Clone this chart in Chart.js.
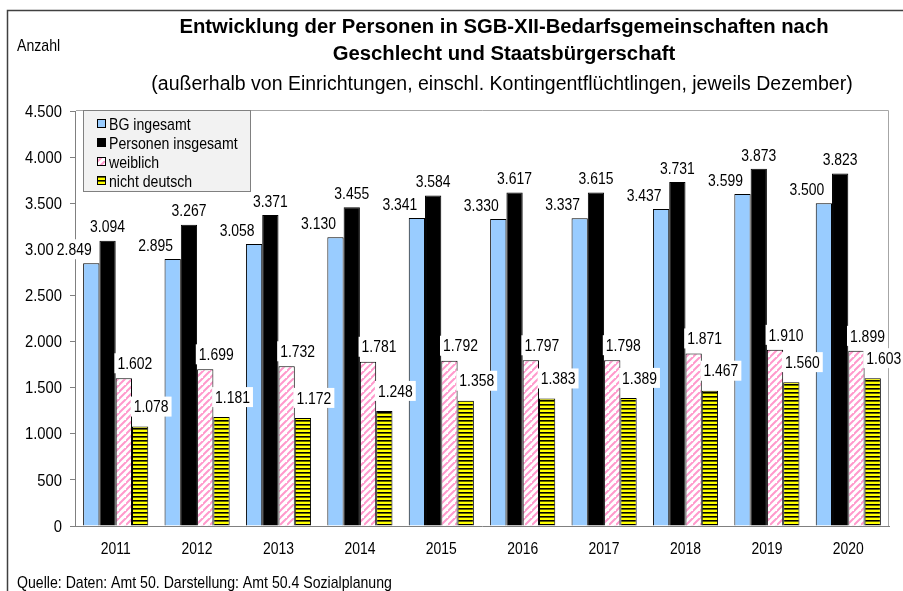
<!DOCTYPE html>
<html lang="de">
<head>
<meta charset="UTF-8">
<title>SGB-XII-Bedarfsgemeinschaften</title>
<script src="https://cdn.jsdelivr.net/npm/chart.js"></script>
<style>
  html, body { margin: 0; padding: 0; background: #fff; }
  canvas { display: block; }
</style>
</head>
<body>
<canvas id="chartCanvas" width="903" height="591"></canvas>
<script>
const years = ["2011", "2012", "2013", "2014", "2015", "2016", "2017", "2018", "2019", "2020"]
const bgInsgesamt = [2849, 2895, 3058, 3130, 3341, 3330, 3337, 3437, 3599, 3500]
const personenInsgesamt = [3094, 3267, 3371, 3455, 3584, 3617, 3615, 3731, 3873, 3823]
const weiblich = [1602, 1699, 1732, 1781, 1792, 1797, 1798, 1871, 1910, 1899]
const nichtDeutsch = [1078, 1181, 1172, 1248, 1358, 1383, 1389, 1467, 1560, 1603]
const yTicks = [0, 500, 1000, 1500, 2000, 2500, 3000, 3500, 4000, 4500]

const FONT = 'Arial, "Liberation Sans", sans-serif'
const SX = 0.82   // narrow look (Arial Narrow not installed)

function fmt(n){
  // german thousands separator
  return String(n).replace(/\B(?=(\d{3})+(?!\d))/g, ".")
}

function narrowText(ctx, txt, x, y, align, sx){
  sx = sx || SX
  const w = ctx.measureText(txt).width * sx
  let left = x
  if (align === "center") left = x - w / 2
  if (align === "right") left = x - w
  ctx.save()
  ctx.translate(left, y)
  ctx.scale(sx, 1)
  ctx.textAlign = "left"
  ctx.fillText(txt, 0, 0)
  ctx.restore()
  return w
}

function makePattern(w, h, drawFn){
  const c = document.createElement("canvas")
  c.width = w
  c.height = h
  const g = c.getContext("2d")
  drawFn(g, w, h)
  return document.getElementById("chartCanvas").getContext("2d").createPattern(c, "repeat")
}

const pinkPattern = makePattern(7, 7, (g, w, h) => {
  g.fillStyle = "#fff"
  g.fillRect(0, 0, w, h)
  g.strokeStyle = "#ff99cc"
  g.lineWidth = 2
  g.beginPath()
  g.moveTo(-1, h + 1); g.lineTo(w + 1, -1)
  g.moveTo(-w - 1, h + 1); g.lineTo(1, -1)
  g.moveTo(w - 1, 2 * h + 1); g.lineTo(2 * w + 1, h - 1)
  g.stroke()
})

const yellowPattern = makePattern(4, 4, (g, w, h) => {
  g.fillStyle = "#ffff00"
  g.fillRect(0, 0, w, h)
  g.fillStyle = "#000"
  g.fillRect(0, 0, w, 1.6)
})

// label offsets per series (relative to bar centre / bar top)
const labelShift = [
  {dx: -17, dy: -14},
  {dx: 0, dy: -14},
  {dx: 11, dy: -15},
  {dx: 11, dy: -20}
]

const extras = {
  id: "extras",
  beforeDraw(chart){
    const ctx = chart.ctx
    ctx.save()
    ctx.fillStyle = "#fff"
    ctx.fillRect(0, 0, chart.width, chart.height)
    ctx.restore()
  },
  afterDatasetsDraw(chart){
    const ctx = chart.ctx
    const a = chart.chartArea
    ctx.save()
    ctx.textBaseline = "middle"
    ctx.fillStyle = "#000"

    // plot frame
    ctx.strokeStyle = "#a6a6a6"
    ctx.lineWidth = 1
    ctx.beginPath()
    ctx.moveTo(a.left + 1, a.top - 0.5)
    ctx.lineTo(a.right - 0.5, a.top - 0.5)
    ctx.lineTo(a.right - 0.5, a.bottom)
    ctx.stroke()

    // axis labels
    ctx.font = "17px " + FONT
    const ys = chart.scales.y
    yTicks.forEach(v => narrowText(ctx, fmt(v), 62, ys.getPixelForValue(v) + 1, "right", 0.87))
    const xs = chart.scales.x
    years.forEach((y, i) => narrowText(ctx, y, xs.getPixelForValue(i), 549, "center"))

    // value labels
    chart.data.datasets.forEach((ds, i) => {
      const meta = chart.getDatasetMeta(i)
      meta.data.forEach((bar, j) => {
        const txt = fmt(ds.data[j])
        const x = bar.x + labelShift[i].dx
        const y = bar.y + labelShift[i].dy
        const w = ctx.measureText(txt).width * SX + 6
        ctx.fillStyle = "#fff"
        ctx.fillRect(x - w / 2, y - 10, w, 20)
        ctx.fillStyle = "#000"
        narrowText(ctx, txt, x, y + 1, "center")
      })
    })

    // legend
    const lx = 83, ly = 110, lw = 167, lh = 81
    ctx.fillStyle = "#f2f2f2"
    ctx.fillRect(lx, ly, lw, lh)
    ctx.strokeStyle = "#808080"
    ctx.strokeRect(lx + 0.5, ly + 0.5, lw, lh)
    chart.data.datasets.forEach((ds, i) => {
      const cy = 124 + i * 19
      ctx.fillStyle = ds.backgroundColor
      ctx.fillRect(97, cy - 5, 9, 9)
      ctx.strokeStyle = "#000"
      ctx.strokeRect(97.5, cy - 4.5, 8, 8)
      ctx.fillStyle = "#000"
      narrowText(ctx, ds.label, 109, cy + 1, "left", 0.83)
    })

    // titles
    ctx.textAlign = "center"
    ctx.fillStyle = "#000"
    ctx.font = "bold 20.3px " + FONT
    ctx.fillText("Entwicklung der Personen in SGB-XII-Bedarfsgemeinschaften nach", 504, 27)
    ctx.fillText("Geschlecht und Staatsbürgerschaft", 504, 54)
    ctx.font = "19.5px " + FONT
    ctx.fillText("(außerhalb von Einrichtungen, einschl. Kontingentflüchtlingen, jeweils Dezember)", 502, 85)

    ctx.font = "17px " + FONT
    narrowText(ctx, "Anzahl", 17, 46, "left", 0.83)
    narrowText(ctx, "Quelle: Daten: Amt 50. Darstellung: Amt 50.4 Sozialplanung", 17, 583, "left", 0.83)

    // outer frame
    ctx.strokeStyle = "#404040"
    ctx.lineWidth = 1.5
    ctx.beginPath()
    ctx.moveTo(7.5, chart.height)
    ctx.lineTo(7.5, 10.5)
    ctx.lineTo(chart.width, 10.5)
    ctx.stroke()
    ctx.restore()
  }
}

const ctx = document.getElementById("chartCanvas").getContext("2d")
new Chart(ctx, {
  type: "bar",
  data: {
    labels: years,
    datasets: [
      {label: "BG ingesamt", data: bgInsgesamt, backgroundColor: "#99ccff", borderColor: "#000", borderWidth: 1},
      {label: "Personen insgesamt", data: personenInsgesamt, backgroundColor: "#000000", borderColor: "#000", borderWidth: 1},
      {label: "weiblich", data: weiblich, backgroundColor: pinkPattern, borderColor: "#000", borderWidth: 1},
      {label: "nicht deutsch", data: nichtDeutsch, backgroundColor: yellowPattern, borderColor: "#000", borderWidth: 1}
    ]
  },
  options: {
    responsive: false,
    animation: false,
    layout: {padding: {left: 0, top: 111, right: 14, bottom: 0}},
    datasets: {bar: {barPercentage: 1, categoryPercentage: 0.8}},
    plugins: {
      legend: {display: false},
      title: {display: false},
      tooltip: {enabled: false}
    },
    scales: {
      x: {
        grid: {display: false, drawTicks: false},
        border: {display: true, color: "#808080", width: 1},
        ticks: {color: "rgba(0,0,0,0)", font: {size: 16}, padding: 12, maxRotation: 0},
        afterFit(s){ s.height = 65 }
      },
      y: {
        min: 0,
        max: 4500,
        afterBuildTicks(s){ s.ticks = yTicks.map(v => ({value: v})) },
        grid: {drawOnChartArea: false, tickLength: 5, color: "#808080"},
        border: {display: true, color: "#808080", width: 1},
        ticks: {color: "rgba(0,0,0,0)", font: {size: 16}, padding: 6},
        afterFit(s){ s.width = 75 }
      }
    }
  },
  plugins: [extras]
})
</script>
</body>
</html>
